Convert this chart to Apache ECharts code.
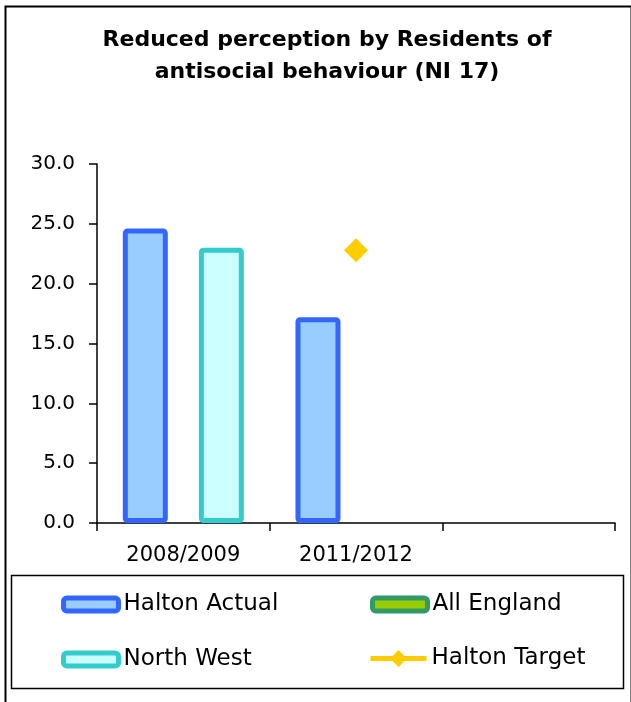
<!DOCTYPE html>
<html>
<head>
<meta charset="utf-8">
<script src="https://cdn.jsdelivr.net/npm/echarts@6/dist/echarts.min.js"></script>
<style>
html,body{margin:0;padding:0;background:#fff;}
#chart{width:631px;height:702px;}
</style>
</head>
<body>
<div id="chart"></div>
<script>
const categories = ['2008/2009', '2011/2012', ''];
const haltonActual = [24.6, 17.2, null];
const northWest = [23.0, null, null];
const allEngland = [null, null, null];
const haltonTarget = [null, 22.8, null];
const yTicks = [0, 5, 10, 15, 20, 25, 30];

const FONT = 'DejaVu Sans';
const chart = echarts.init(document.getElementById('chart'), null, {renderer: 'canvas'});

const legendBase = {
  orient: 'horizontal',
  padding: 0,
  itemWidth: 55,
  itemHeight: 13,
  selectedMode: false,
  textStyle: {fontFamily: FONT, fontSize: 23, color: '#000'}
};

chart.setOption({
  animation: false,
  backgroundColor: '#fff',
  title: {
    text: 'Reduced perception by Residents of\nantisocial behaviour (NI 17)',
    left: 327,
    top: 24,
    padding: 0,
    textAlign: 'center',
    textStyle: {fontFamily: FONT, fontWeight: 'bold', fontSize: 22, lineHeight: 32, color: '#000'}
  },
  graphic: [
    {type: 'rect', left: 3, top: 4, shape: {x: 0, y: 0, width: 626, height: 720},
      style: {fill: 'none', stroke: '#000', lineWidth: 2}, silent: true, z: -1},
    {type: 'rect', left: 9, top: 573, shape: {x: 0, y: 0, width: 612, height: 113},
      style: {fill: 'none', stroke: '#000', lineWidth: 1.5}, silent: true, z: -1}
  ],
  legend: [
    Object.assign({}, legendBase, {data: [{name: 'Halton Actual', itemStyle: {borderWidth: 5}}], left: 61, top: 593}),
    Object.assign({}, legendBase, {data: [{name: 'All England', itemStyle: {borderWidth: 5}}], left: 370, top: 593}),
    Object.assign({}, legendBase, {data: [{name: 'North West', itemStyle: {borderWidth: 5}}], left: 61, top: 648}),
    Object.assign({}, legendBase, {data: [{name: 'Halton Target', lineStyle: {width: 5}}], left: 368, top: 647, itemWidth: 56, itemHeight: 21})
  ],
  grid: {left: 97, right: 16, top: 164, bottom: 179, containLabel: false},
  xAxis: {
    type: 'category',
    data: categories,
    boundaryGap: true,
    axisLine: {lineStyle: {color: '#000', width: 1.5}},
    axisTick: {show: true, alignWithLabel: false, interval: 0, length: 8, lineStyle: {color: '#000', width: 1.5}},
    axisLabel: {interval: 0, margin: 22, fontFamily: FONT, fontSize: 21, color: '#000'},
    splitLine: {show: false}
  },
  yAxis: {
    type: 'value',
    min: yTicks[0],
    max: yTicks[yTicks.length - 1],
    interval: 5,
    axisLine: {show: true, lineStyle: {color: '#000', width: 1.5}},
    axisTick: {show: true, length: 8, lineStyle: {color: '#000', width: 1.5}},
    axisLabel: {margin: 22, fontFamily: FONT, fontSize: 20, color: '#000',
      formatter: v => v.toFixed(1)},
    splitLine: {show: false}
  },
  series: [
    {
      name: 'Halton Actual', type: 'bar', stack: 'a', data: haltonActual,
      barWidth: 45, barGap: '69%',
      itemStyle: {color: '#99CCFF', borderColor: '#3366FF', borderWidth: 5, borderRadius: 2}
    },
    {
      name: 'North West', type: 'bar', stack: 'b', data: northWest,
      barWidth: 45, barGap: '69%',
      itemStyle: {color: '#CCFFFF', borderColor: '#33CCCC', borderWidth: 5, borderRadius: 2}
    },
    {
      name: 'All England', type: 'bar', stack: 'a', data: allEngland,
      barWidth: 45, barGap: '69%',
      itemStyle: {color: '#99CC00', borderColor: '#339966', borderWidth: 5, borderRadius: 2}
    },
    {
      name: 'Halton Target', type: 'line', data: haltonTarget,
      symbol: 'diamond', symbolSize: 24,
      itemStyle: {color: '#FFCC00'},
      lineStyle: {color: '#FFCC00', width: 5}
    }
  ]
});
</script>
</body>
</html>
